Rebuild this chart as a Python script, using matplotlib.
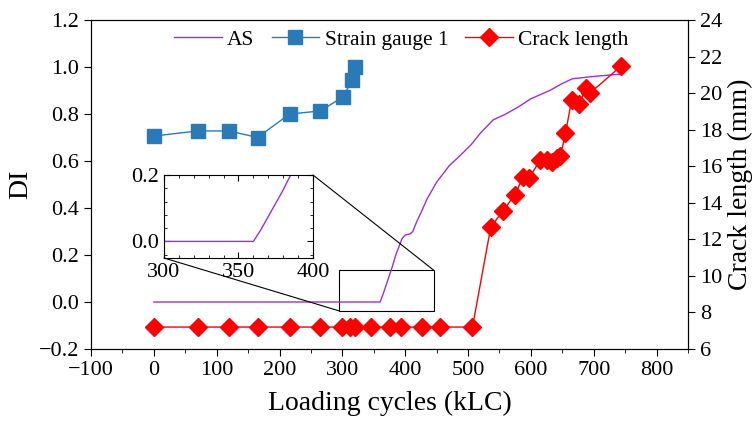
import matplotlib
matplotlib.use("Agg")
import matplotlib.pyplot as plt
from matplotlib.patches import Rectangle, ConnectionPatch
from matplotlib.ticker import MultipleLocator

plt.rcParams['font.family'] = ['Liberation Serif', 'DejaVu Serif']

# AS damage index
as_x = [0, 100, 200, 300, 360, 365, 370, 375, 380, 385, 390, 395, 400, 408, 412, 418,
        425, 435, 450, 470, 490, 505, 520, 540, 560, 580, 600, 630, 650, 666, 700, 744]
as_y = [0, 0, 0, 0, 0, 0.035, 0.075, 0.115, 0.155, 0.2, 0.235, 0.27, 0.285, 0.29, 0.30, 0.34,
        0.38, 0.44, 0.51, 0.58, 0.63, 0.67, 0.72, 0.775, 0.80, 0.83, 0.865, 0.90, 0.93, 0.95, 0.96, 0.97]

# Strain gauge 1
sg_x = [0, 70, 120, 165, 216, 265, 301, 316, 320]
sg_y = [0.706, 0.728, 0.728, 0.70, 0.80, 0.813, 0.873, 0.945, 1.0]

# Crack length (mm)
cl_x = [0, 70, 120, 165, 216, 265, 300, 312, 320, 346, 375, 394, 426, 455, 507,
        536, 555, 575, 587, 597, 615, 625, 634, 641, 647, 655, 665, 677, 687, 694, 744]
cl_y = [7.2, 7.2, 7.2, 7.2, 7.2, 7.2, 7.2, 7.2, 7.2, 7.2, 7.2, 7.2, 7.2, 7.2, 7.2,
        12.65, 13.55, 14.45, 15.4, 15.35, 16.35, 16.35, 16.25, 16.45, 16.55, 17.8, 19.65,
        19.4, 20.3, 20.0, 21.5]

as_color = '#9b30d9'
sg_color = '#2a7ab8'

fig = plt.figure(figsize=(7.54, 4.24), dpi=100)
ax1 = fig.add_axes([0.1207, 0.1769, 0.7918, 0.7759])

l1, = ax1.plot(as_x, as_y, color=as_color, lw=1.0, label='AS')
l2, = ax1.plot(sg_x, sg_y, color=sg_color, lw=1.0, marker='s', ms=9.5,
               label='Strain gauge 1')
ax1.set_xlim(-100, 850)
ax1.set_ylim(-0.2, 1.2)
ax1.xaxis.set_major_locator(MultipleLocator(100))
ax1.xaxis.set_minor_locator(MultipleLocator(50))
ax1.yaxis.set_major_locator(MultipleLocator(0.2))
ax1.yaxis.set_major_formatter(plt.FuncFormatter(lambda v, p: f'{v:.1f}'.replace('-', '\u2212')))
ax1.xaxis.set_major_formatter(plt.FuncFormatter(lambda v, p: f'{v:.0f}'.replace('-', '\u2212')))
ax1.tick_params(axis='both', which='major', direction='out', length=5, labelsize=16)
ax1.tick_params(axis='x', which='minor', direction='out', length=3)
ax1.set_xlabel('Loading cycles (kLC)', fontsize=20, labelpad=8)
ax1.set_ylabel('DI', fontsize=20, labelpad=4)

ax2 = ax1.twinx()
l3, = ax2.plot(cl_x, cl_y, color='red', lw=1.0, marker='D', ms=9,
               label='Crack length')
ax2.set_ylim(6, 24)
ax2.yaxis.set_major_locator(MultipleLocator(2))
ax2.tick_params(axis='y', direction='out', length=5, labelsize=16)
ax2.set_ylabel('Crack length (mm)', fontsize=20, labelpad=4)

ax1.legend([l1, l2, l3], ['AS', 'Strain gauge 1', 'Crack length'], ncol=3,
           frameon=False, loc='upper center', bbox_to_anchor=(0.52, 1.03),
           fontsize=15.5, handlelength=2.2, columnspacing=0.8, handletextpad=0.25)

# zoom rectangle on the main axes
ax1.add_patch(Rectangle((295, -0.038), 150, 0.174, fill=False, ec='black', lw=0.8))

# inset
axin = fig.add_axes([0.2175, 0.3915, 0.1976, 0.1958])
axin.plot(as_x, as_y, color=as_color, lw=1.0)
axin.set_xlim(300, 400)
axin.set_ylim(-0.05, 0.2)
axin.xaxis.set_major_locator(MultipleLocator(50))
axin.xaxis.set_minor_locator(MultipleLocator(10))
axin.yaxis.set_major_locator(MultipleLocator(0.2))
axin.yaxis.set_minor_locator(MultipleLocator(0.04))
axin.yaxis.set_major_formatter(plt.FuncFormatter(lambda v, p: f'{v:.1f}'))
axin.tick_params(which='both', direction='in', top=True, right=True, labelsize=16)
axin.tick_params(which='major', length=4)
axin.tick_params(which='minor', length=2.5)

for xa, xb in [((1, 1), (445, 0.136)), ((0, 0), (295, -0.038))]:
    con = ConnectionPatch(xyA=xa, coordsA=axin.transAxes, xyB=xb, coordsB=ax1.transData,
                          color='black', lw=0.8)
    fig.add_artist(con)

fig.savefig('out.png', dpi=100)
